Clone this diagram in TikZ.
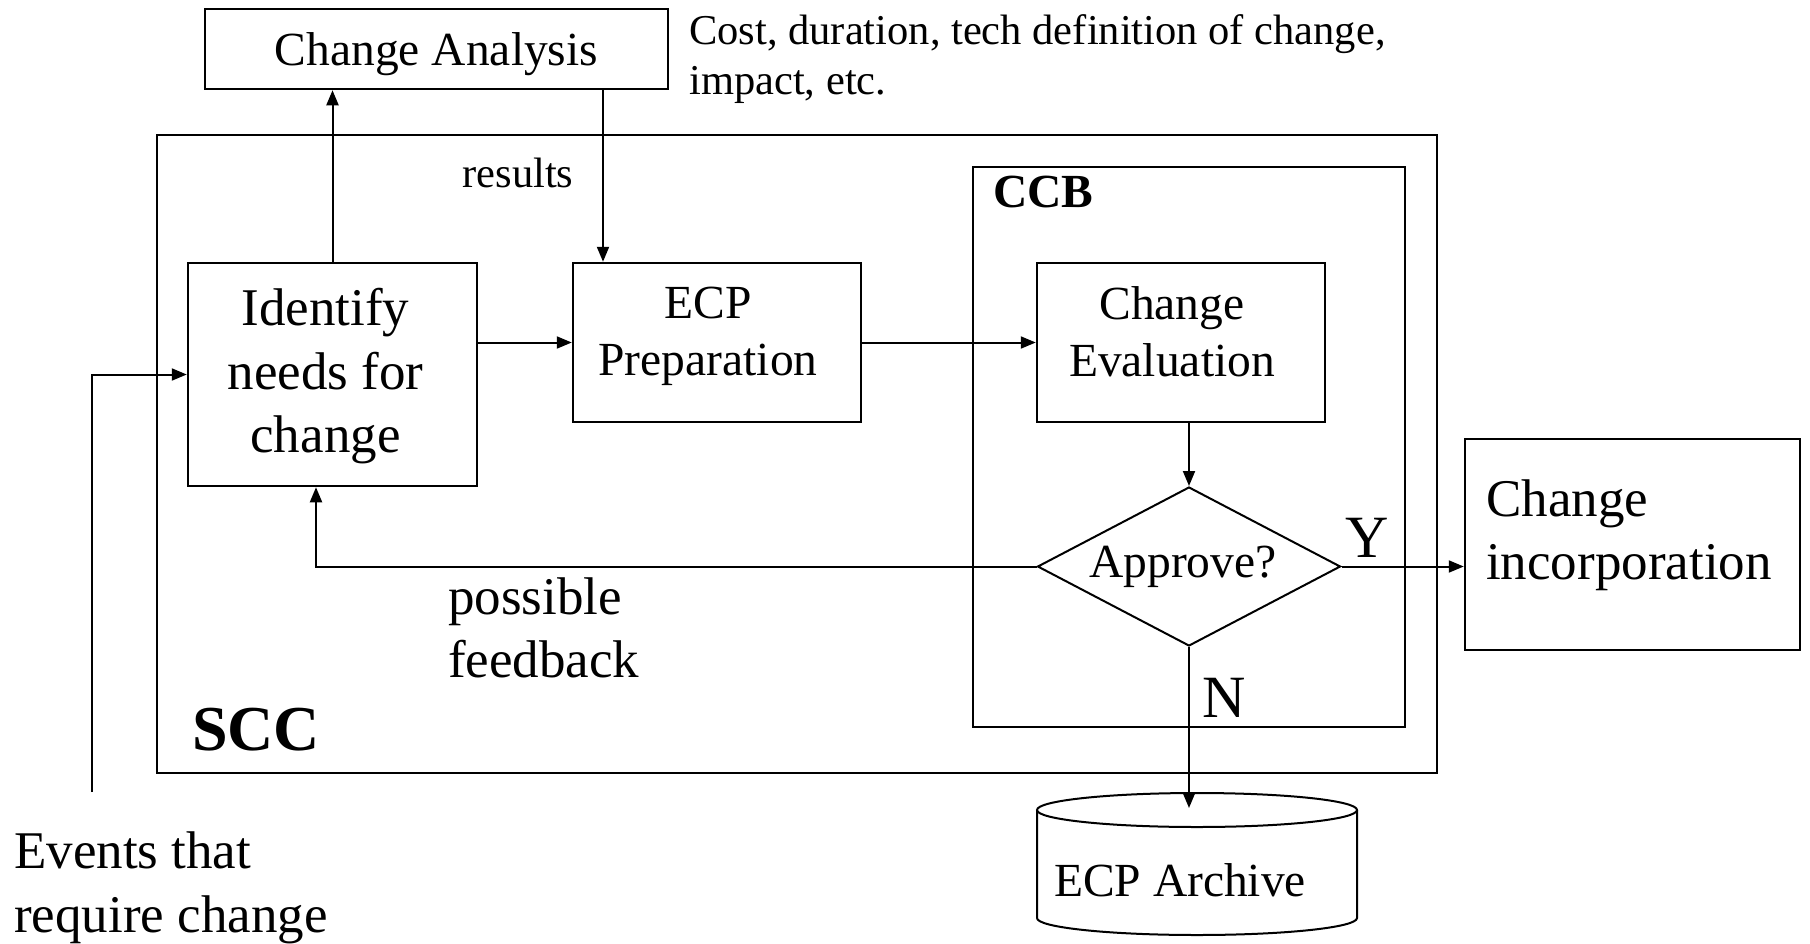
\documentclass[tikz,border=0pt]{standalone}
\usepackage{fontspec}
\setmainfont{Liberation Serif}
\usetikzlibrary{arrows.meta,shapes.geometric}

% text sizes (1pt = 1 unit of the drawing)
\newcommand\szS{\fontsize{42.5}{50}\selectfont}
\newcommand\szM{\fontsize{47.5}{57}\selectfont}
\newcommand\szL{\fontsize{53}{63.5}\selectfont}
\newcommand\szYN{\fontsize{60}{70}\selectfont}
\newcommand\szXL{\fontsize{64}{76}\selectfont}

\begin{document}
\begin{tikzpicture}[x=1pt,y=-1pt,
  box/.style={draw, line width=2.5pt, inner sep=0pt},
  flow/.style={line width=2pt, -{Triangle[length=15pt,width=12pt]}},
  txt/.style={inner sep=0pt, align=left},
  ctxt/.style={inner sep=0pt, align=center},
]
\useasboundingbox (0,0) rectangle (1810,943);

% containers
\node[box, minimum width=1280pt, minimum height=638pt] (scc) at (797,454) {};
\node[box, minimum width=432pt, minimum height=560pt] (ccb) at (1189,447) {};
\node[txt, font=\szXL\bfseries, anchor=west] (scclbl) at (192,730) {SCC};
\node[txt, font=\szM\bfseries, anchor=west] (ccblbl) at (993,192) {CCB};

% process boxes
\node[box, minimum width=463pt, minimum height=80pt] (ca) at (436.5,49) {};
\node[ctxt, font=\szM] (catxt) at ([shift={(0,5)}]ca.center) {Change Analysis};
\node[txt, font=\szS, anchor=west] (costs) at (689,59) {Cost, duration, tech definition of change,\\impact, etc.};
\node[box, minimum width=289pt, minimum height=223pt] (identify) at (332.5,374.5) {};
\node[ctxt, font=\szL] (identifytxt) at ([shift={(-7,2)}]identify.center) {Identify\\needs for\\change};
\node[box, minimum width=288pt, minimum height=159pt] (ecp) at (717,342.5) {};
\node[ctxt, font=\szM] (ecptxt) at ([shift={(-9,-6)}]ecp.center) {ECP\\Preparation};
\node[box, minimum width=288pt, minimum height=159pt] (eval) at (1181,342.5) {};
\node[ctxt, font=\szM] (evaltxt) at ([shift={(-9,-11)}]eval.center) {Change\\Evaluation};
\node[draw, line width=2pt, shape=diamond, shape aspect=1.9, inner sep=0pt,
      minimum width=303pt, minimum height=159pt] (approve) at (1189,566.5) {};
\node[ctxt, font=\szM] (approvetxt) at ([xshift=-6]approve.center) {Approve?};
\node[box, minimum width=335pt, minimum height=211pt] (incorp) at (1632.5,544.5) {};
\node[txt, font=\szL, anchor=west] (incorptxt) at (1486,535) {Change\\incorporation};

% archive
\draw[line width=2pt] (1037,810) -- (1037,918)
  arc[start angle=180, end angle=0, x radius=160, y radius=17] -- (1357,810);
\draw[line width=2pt] (1197,810) ellipse[x radius=160, y radius=17];
\node[ctxt, font=\szM] (archive) at (1180,880) {ECP Archive};
\coordinate (archtop) at (1189,808);

% labels
\node[txt, font=\szS] (results) at (518,173) {results};
\node[txt, font=\szL, anchor=west] (fb) at (448,628) {possible\\feedback};
\node[txt, font=\szYN] (ylbl) at (1367,538) {Y};
\node[txt, font=\szYN] (nlbl) at (1224,698) {N};
\node[txt, font=\szL, anchor=west] (events) at (14,888) {Events that\\require change};

% connectors
\coordinate (cax) at (603,0);
\coordinate (fbx) at (316,0);
\coordinate (evstart) at (92,792);
\draw[flow] (identify.north) -- (identify.north |- ca.south);
\draw[flow] (cax |- ca.south) -- (cax |- ecp.north);
\draw[flow] (identify.east |- ecp.west) -- (ecp.west);
\draw[flow] (ecp.east) -- (eval.west);
\draw[flow] (eval.south -| approve.north) -- (approve.north);
\draw[flow] (approve.east) -- (approve.east -| incorp.west);
\draw[flow] (approve.west) -- (approve.west -| fbx) -- (fbx |- identify.south);
\draw[flow] (evstart) |- (identify.west);
\draw[flow] (approve.south) -- (approve.south |- archtop);
\end{tikzpicture}
\end{document}
